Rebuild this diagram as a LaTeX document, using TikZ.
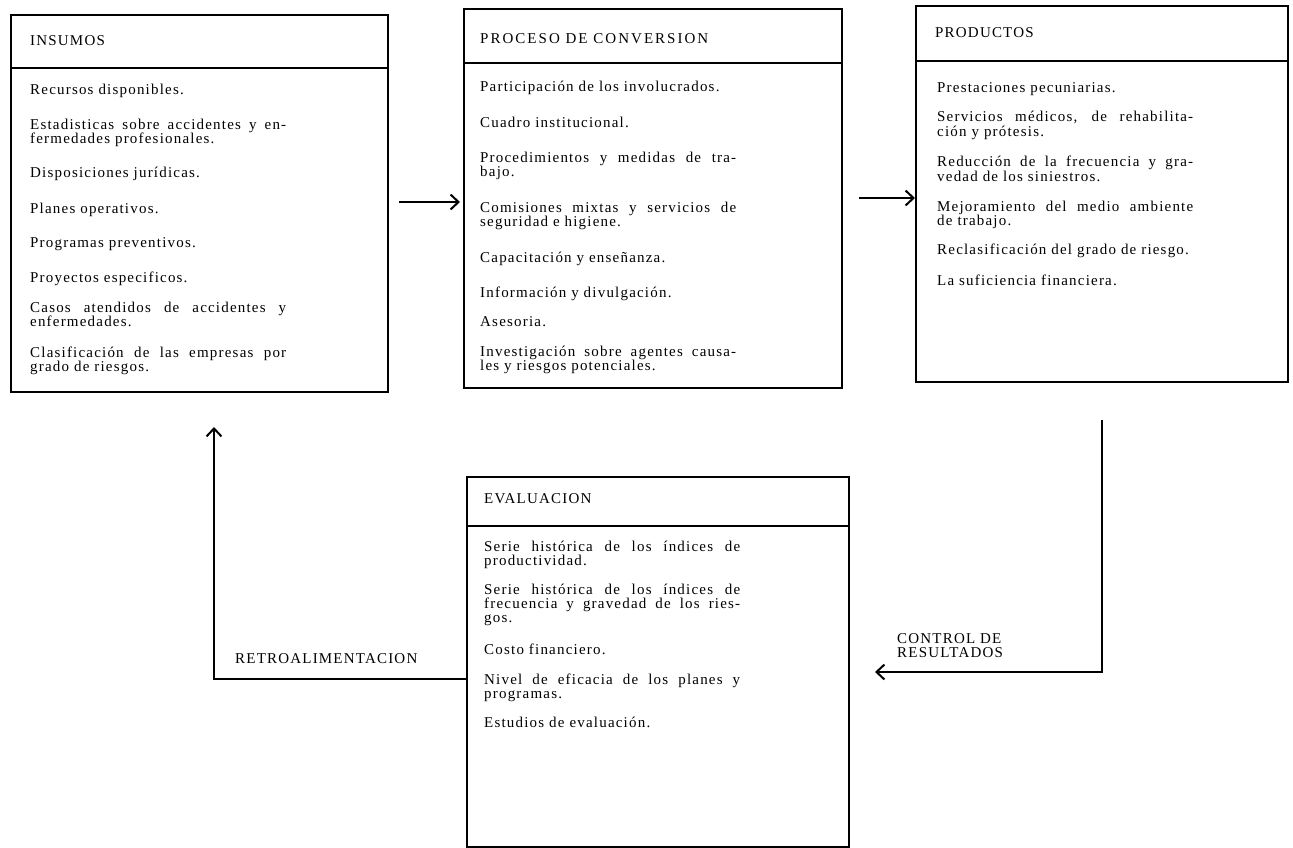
\documentclass[tikz,border=0pt]{standalone}
\usepackage{fontspec}
\setmainfont{Liberation Serif}[LetterSpace=8]
\newfontfamily\widetitle{Liberation Serif}[LetterSpace=13.5]
\usetikzlibrary{arrows.meta}
% one justified line of a list entry
\newcommand{\jline}[1]{\makebox[256pt][s]{#1}}
\tikzset{
  box/.style={draw, line width=2pt, rectangle, inner sep=0pt, anchor=north west},
  hdr/.style={line width=1.8pt},
  ttl/.style={inner sep=0pt, anchor=base west, font=\fontsize{15}{14}\selectfont},
  entry/.style={inner sep=0pt, anchor=base west, align=left, font=\fontsize{15}{14}\selectfont},
  lbl/.style={inner sep=0pt, anchor=base west, align=left, font=\fontsize{15}{14}\selectfont},
  arr/.style={line width=1.6pt, -{Straight Barb[length=8pt,width=15pt,line width=2pt]}}
}
\begin{document}
\begin{tikzpicture}[x=1pt,y=-1pt]
\useasboundingbox (0,0) rectangle (1293,848);

% ---- boxes ----
\node[box, minimum width=377pt, minimum height=377pt] (ins)  at (10,14)  {};
\node[box, minimum width=378pt, minimum height=379pt] (proc) at (463,8)  {};
\node[box, minimum width=372pt, minimum height=376pt] (prod) at (915,5)  {};
\node[box, minimum width=382pt, minimum height=370pt] (eval) at (466,476) {};

% header rules
\draw[hdr] (ins.west |- 0,68)  -- (ins.east |- 0,68);
\draw[hdr] (proc.west |- 0,63) -- (proc.east |- 0,63);
\draw[hdr] (prod.west |- 0,61) -- (prod.east |- 0,61);
\draw[hdr] (eval.west |- 0,526) -- (eval.east |- 0,526);

% ---- INSUMOS ----  (multi-line entries are placed by their last baseline)
\node[ttl] (insT) at (30,46) {INSUMOS};
\node[entry] (ins1) at (30,95)  {Recursos disponibles.};
\node[entry] (ins2) at (30,144) {\jline{Estadisticas sobre accidentes y en-}\\fermedades profesionales.};
\node[entry] (ins3) at (30,178) {Disposiciones jurídicas.};
\node[entry] (ins4) at (30,213) {Planes operativos.};
\node[entry] (ins5) at (30,247) {Programas preventivos.};
\node[entry] (ins6) at (30,282) {Proyectos especificos.};
\node[entry] (ins7) at (30,326) {\jline{Casos atendidos de accidentes y}\\enfermedades.};
\node[entry] (ins8) at (30,371) {\jline{Clasificación de las empresas por}\\grado de riesgos.};

% ---- PROCESO DE CONVERSION ----
\node[ttl] (procT) at (480,44) {\widetitle PROCESO DE CONVERSION};
\node[entry] (proc1) at (480,92)  {Participación de los involucrados.};
\node[entry] (proc2) at (480,128) {Cuadro institucional.};
\node[entry] (proc3) at (480,176) {\jline{Procedimientos y medidas de tra-}\\bajo.};
\node[entry] (proc4) at (480,226) {\jline{Comisiones mixtas y servicios de}\\seguridad e higiene.};
\node[entry] (proc5) at (480,262) {Capacitación y enseñanza.};
\node[entry] (proc6) at (480,297) {Información y divulgación.};
\node[entry] (proc7) at (480,326) {Asesoria.};
\node[entry] (proc8) at (480,370) {\jline{Investigación sobre agentes causa-}\\les y riesgos potenciales.};

% ---- PRODUCTOS ----
\node[ttl] (prodT) at (935,38) {PRODUCTOS};
\node[entry] (prod1) at (937,93)  {Prestaciones pecuniarias.};
\node[entry] (prod2) at (937,136) {\jline{Servicios médicos, de rehabilita-}\\ción y prótesis.};
\node[entry] (prod3) at (937,181) {\jline{Reducción de la frecuencia y gra-}\\vedad de los siniestros.};
\node[entry] (prod4) at (937,225) {\jline{Mejoramiento del medio ambiente}\\de trabajo.};
\node[entry] (prod5) at (937,254) {Reclasificación del grado de riesgo.};
\node[entry] (prod6) at (937,285) {La suficiencia financiera.};

% ---- EVALUACION ----
\node[ttl] (evalT) at (484,503) {EVALUACION};
\node[entry] (eval1) at (484,565) {\jline{Serie histórica de los índices de}\\productividad.};
\node[entry] (eval2) at (484,622) {\jline{Serie histórica de los índices de}\\\jline{frecuencia y gravedad de los ries-}\\gos.};
\node[entry] (eval3) at (484,654) {Costo financiero.};
\node[entry] (eval4) at (484,698) {\jline{Nivel de eficacia de los planes y}\\programas.};
\node[entry] (eval5) at (484,727) {Estudios de evaluación.};

% ---- flow connectors ----
\draw[arr, shorten <=10pt, shorten >=3pt] (ins.east |- 0,202) -- (proc.west |- 0,202);
\draw[arr, shorten <=16pt] (proc.east |- 0,198) -- (prod.west |- 0,198);

% control of results: from below the products box back to the evaluation box
\draw[arr, shorten <=37pt, shorten >=25pt] (prod.south) |- (eval.east |- 0,672);
\node[lbl] (ctrlL) at (897,657) {CONTROL DE\\RESULTADOS};

% feedback: from the evaluation box up towards the inputs box
\coordinate (retroTip) at (214,427);
\draw[arr] (eval.west |- 0,679) -| (retroTip);
\node[lbl] (retroL) at (235,663) {RETROALIMENTACION};
\end{tikzpicture}
\end{document}
